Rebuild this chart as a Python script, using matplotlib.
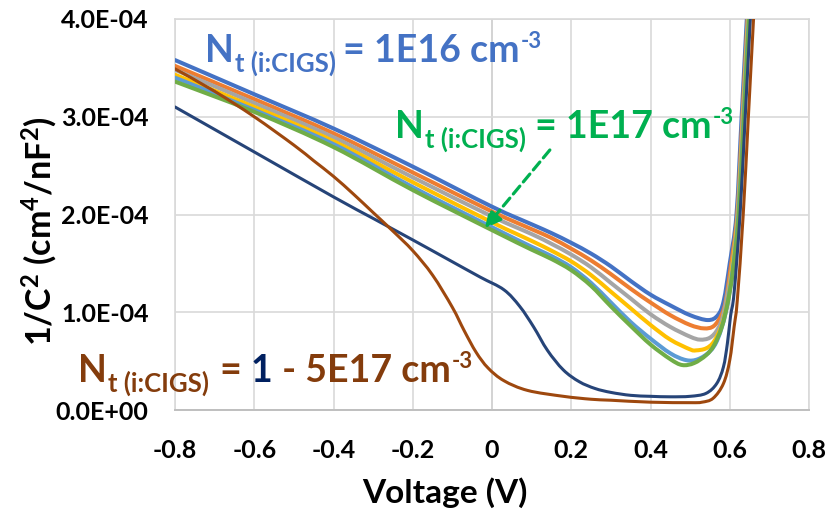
import matplotlib
matplotlib.use("Agg")
import matplotlib.pyplot as plt
from matplotlib.path import Path
from matplotlib.patches import PathPatch
import numpy as np

plt.rcParams['font.family'] = ['Lato', 'DejaVu Sans']
plt.rcParams['mathtext.fontset'] = 'custom'
plt.rcParams['mathtext.rm'] = 'Lato:bold'
plt.rcParams['mathtext.it'] = 'Lato:bold'
plt.rcParams['mathtext.bf'] = 'Lato:bold'

SCALE = 1e-4  # curve values below are in units of 1E-04 cm^4/nF^2

# Voltage (V) and 1/C^2 for each trap density
v_blue = [-0.8, -0.6, -0.4, -0.2, 0, 0.1, 0.15, 0.2, 0.25, 0.3, 0.35, 0.4, 0.45, 0.5, 0.545, 0.57, 0.585, 0.6, 0.617, 0.63, 0.643, 0.656]
c_blue = [3.58, 3.23, 2.88, 2.49, 2.08, 1.90, 1.81, 1.71, 1.60, 1.47, 1.32, 1.18, 1.07, 0.97, 0.92, 0.97, 1.12, 1.50, 2.0, 3.0, 4.0, 5.0]

v_orange = [-0.8, -0.6, -0.4, -0.2, 0, 0.1, 0.15, 0.2, 0.25, 0.3, 0.35, 0.4, 0.45, 0.5, 0.535, 0.56, 0.58, 0.59, 0.602, 0.619, 0.632, 0.645, 0.658]
c_orange = [3.52, 3.18, 2.83, 2.43, 2.03, 1.85, 1.76, 1.65, 1.53, 1.39, 1.24, 1.10, 0.97, 0.87, 0.835, 0.86, 0.98, 1.12, 1.45, 2.0, 3.0, 4.0, 5.0]

v_gray = [-0.8, -0.6, -0.4, -0.2, 0, 0.1, 0.15, 0.2, 0.25, 0.3, 0.35, 0.4, 0.45, 0.5, 0.525, 0.55, 0.57, 0.585, 0.604, 0.62, 0.633, 0.646, 0.659]
c_gray = [3.48, 3.14, 2.79, 2.38, 1.98, 1.80, 1.70, 1.59, 1.46, 1.30, 1.14, 0.98, 0.85, 0.75, 0.72, 0.74, 0.83, 1.0, 1.42, 2.0, 3.0, 4.0, 5.0]

v_yellow = [-0.8, -0.6, -0.4, -0.2, 0, 0.1, 0.15, 0.2, 0.25, 0.3, 0.35, 0.4, 0.45, 0.5, 0.515, 0.54, 0.56, 0.58, 0.595, 0.606, 0.621, 0.634, 0.647, 0.66]
c_yellow = [3.43, 3.10, 2.75, 2.33, 1.92, 1.73, 1.63, 1.52, 1.38, 1.21, 1.04, 0.87, 0.72, 0.62, 0.61, 0.63, 0.70, 0.87, 1.12, 1.45, 2.0, 3.0, 4.0, 5.0]

v_lblue = [-0.8, -0.6, -0.4, -0.2, 0, 0.1, 0.15, 0.2, 0.25, 0.3, 0.35, 0.4, 0.45, 0.49, 0.52, 0.55, 0.57, 0.59, 0.607, 0.622, 0.635, 0.648, 0.661]
c_lblue = [3.40, 3.07, 2.72, 2.28, 1.87, 1.67, 1.575, 1.46, 1.30, 1.10, 0.90, 0.73, 0.58, 0.51, 0.52, 0.60, 0.73, 1.0, 1.42, 2.0, 3.0, 4.0, 5.0]

v_green = [-0.8, -0.6, -0.4, -0.2, 0, 0.1, 0.15, 0.2, 0.25, 0.3, 0.35, 0.4, 0.45, 0.48, 0.51, 0.54, 0.56, 0.58, 0.595, 0.608, 0.623, 0.636, 0.649, 0.662]
c_green = [3.36, 3.05, 2.69, 2.25, 1.84, 1.64, 1.545, 1.43, 1.27, 1.06, 0.86, 0.67, 0.52, 0.46, 0.48, 0.56, 0.66, 0.85, 1.10, 1.42, 2.0, 3.0, 4.0, 5.0]

v_navy = [-0.8, -0.6, -0.4, -0.3, -0.2, -0.115, -0.03, 0.03, 0.07, 0.105, 0.14, 0.18, 0.22, 0.26, 0.3, 0.35, 0.4, 0.45, 0.5, 0.54, 0.567, 0.584, 0.594, 0.602, 0.611, 0.626, 0.639, 0.652, 0.665]
c_navy = [3.10, 2.64, 2.18, 1.96, 1.74, 1.55, 1.36, 1.23, 1.06, 0.85, 0.61, 0.41, 0.29, 0.22, 0.18, 0.15, 0.14, 0.135, 0.14, 0.17, 0.27, 0.44, 0.68, 0.96, 1.2, 2.0, 3.0, 4.0, 5.0]

v_brown = [-0.8, -0.7, -0.6, -0.5, -0.45, -0.4, -0.35, -0.3, -0.25, -0.2, -0.15, -0.1, -0.07, -0.04, -0.01, 0.03, 0.09, 0.18, 0.25, 0.3, 0.4, 0.5, 0.53, 0.558, 0.584, 0.6, 0.611, 0.619, 0.634, 0.647, 0.66, 0.673]
c_brown = [3.49, 3.26, 3.00, 2.71, 2.55, 2.39, 2.21, 2.02, 1.83, 1.63, 1.38, 1.05, 0.81, 0.59, 0.43, 0.30, 0.20, 0.14, 0.11, 0.10, 0.08, 0.075, 0.08, 0.12, 0.27, 0.51, 0.85, 1.12, 2.0, 3.0, 4.0, 5.0]

x_ticks = [-0.8, -0.6, -0.4, -0.2, 0.0, 0.2, 0.4, 0.6, 0.8]
x_tick_labels = ["-0.8", "-0.6", "-0.4", "-0.2", "0", "0.2", "0.4", "0.6", "0.8"]
y_ticks = [0.0, 1.0e-4, 2.0e-4, 3.0e-4, 4.0e-4]
y_tick_labels = ["0.0E+00", "1.0E-04", "2.0E-04", "3.0E-04", "4.0E-04"]

series = [
    (v_blue, c_blue, '#4472C4', 2.9),
    (v_orange, c_orange, '#ED7D31', 2.9),
    (v_gray, c_gray, '#A5A5A5', 2.9),
    (v_yellow, c_yellow, '#FFC000', 2.9),
    (v_lblue, c_lblue, '#5B9BD5', 2.9),
    (v_green, c_green, '#70AD47', 2.9),
    (v_navy, c_navy, '#264478', 2.2),
    (v_brown, c_brown, '#9E480E', 2.2),
]


def smoothed_path(x, y):
    """Bezier path through the points, drawn like a spreadsheet's smoothed line."""
    p = np.column_stack([x, y]).astype(float)
    n = len(p)
    verts = [p[0]]
    codes = [Path.MOVETO]
    for i in range(n - 1):
        p0 = p[i - 1] if i > 0 else p[i]
        p1, p2 = p[i], p[i + 1]
        p3 = p[i + 2] if i + 2 < n else p[i + 1]
        verts += [p1 + (p2 - p0) / 6.0, p2 - (p3 - p1) / 6.0, p2]
        codes += [Path.CURVE4] * 3
    return Path(verts, codes)


W, H = 827, 512
fig = plt.figure(figsize=(W / 100, H / 100), dpi=100)
ax = fig.add_axes([175 / W, (H - 410) / H, (809 - 175) / W, (410 - 19) / H])

for v, c, col, lw in series:
    patch = PathPatch(smoothed_path(v, np.array(c) * SCALE), facecolor='none',
                      edgecolor=col, lw=lw, capstyle='round', joinstyle='round', zorder=3)
    ax.add_patch(patch)

ax.set_xlim(-0.8, 0.8)
ax.set_ylim(0, 4.0e-4)
ax.set_xticks(x_ticks)
ax.set_xticklabels(x_tick_labels)
ax.set_yticks(y_ticks)
ax.set_yticklabels(y_tick_labels)
ax.tick_params(axis='both', length=0, labelsize=18)
ax.tick_params(axis='x', pad=21)
ax.tick_params(axis='y', pad=19)
for lab in ax.get_xticklabels() + ax.get_yticklabels():
    lab.set_fontweight('bold')

ax.grid(True, color='#D9D9D9', lw=1.2, zorder=0)
for side in ['left', 'top', 'right']:
    ax.spines[side].set_color('#D9D9D9')
    ax.spines[side].set_linewidth(1.2)
ax.spines['bottom'].set_color('#BFBFBF')
ax.spines['bottom'].set_linewidth(1.4)
ax.axvline(0, color='#BFBFBF', lw=1.4, zorder=1)

fig.text(445 / W, 1 - 493 / H, 'Voltage (V)', fontsize=24, fontweight='bold',
         ha='center', va='center')
fig.text(40 / W, 1 - 231 / H, r'1/C$^2$ (cm$^4$/nF$^2$)', rotation=90,
         fontsize=24.5, fontweight='bold', ha='center', va='center')

# Dashed pointer to the 1E17 curve
ax.annotate('', xy=(-0.018, 1.86e-4), xytext=(0.146, 2.66e-4),
            arrowprops=dict(arrowstyle='-|>', linestyle=(0, (3.2, 1.7)), color='#00B050',
                            lw=2.3, mutation_scale=24, shrinkA=0, shrinkB=0),
            zorder=5)

renderer = fig.canvas.get_renderer()


def put(x, y, s, size, color):
    t = fig.text(x / W, 1 - y / H, s, fontsize=size, color=color, fontweight='bold',
                 ha='left', va='baseline', zorder=6)
    return x + t.get_window_extent(renderer).width


def label(x_n, base, x_eq, main, color, big=27, small=18.5, sub_drop=10, sup_rise=14):
    x = put(x_n, base, 'N', big, color)
    put(x + 1, base + sub_drop, 't (i:CIGS)', small, color)
    x = x_eq
    for s, col in main:
        x = put(x, base, s, big, col)
    put(x + 1, base - sup_rise, '-3', 16, color)


label(205, 62, 343, [('= 1E16 cm', '#4472C4')], '#4472C4')
label(395, 138, 535, [('= 1E17 cm', '#00B050')], '#00B050')
label(78, 382, 220, [('= ', '#843C0C'), ('1', '#002060'), (' - 5E17 cm', '#843C0C')], '#843C0C')

fig.savefig('out.png', dpi=100)
